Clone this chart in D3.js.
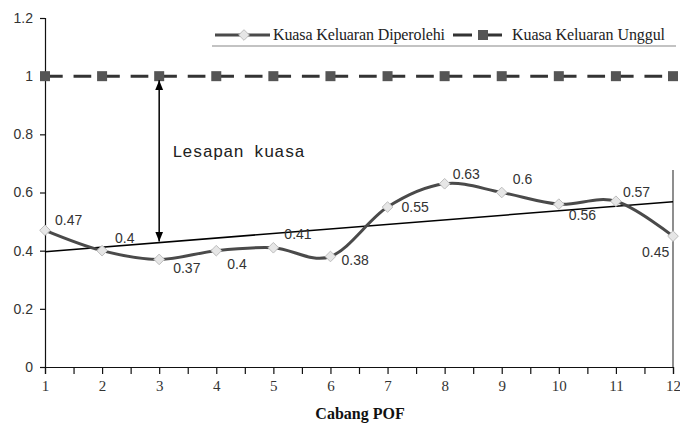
<!DOCTYPE html>
<html>
<head>
<meta charset="utf-8">
<script src="https://cdn.jsdelivr.net/npm/d3@7/dist/d3.min.js"></script>
<style>
  html, body { margin: 0; padding: 0; background: #fff; }
  svg { display: block; }
</style>
</head>
<body>
<svg id="chart" width="680" height="428"></svg>
<script>
// Power output per POF branch
const branches = [1, 2, 3, 4, 5, 6, 7, 8, 9, 10, 11, 12];
const obtained = [0.47, 0.4, 0.37, 0.4, 0.41, 0.38, 0.55, 0.63, 0.6, 0.56, 0.57, 0.45];
const optimum = [1, 1, 1, 1, 1, 1, 1, 1, 1, 1, 1, 1];
const yTicks = [0, 0.2, 0.4, 0.6, 0.8, 1, 1.2];
const seriesNames = ["Kuasa Keluaran Diperolehi", "Kuasa Keluaran Unggul"];
const xTitle = "Cabang POF";
const gapLabel = "Lesapan kuasa";
const gapAt = 3;

const svg = d3.select("#chart");
const W = 680, H = 428;
const m = { left: 45, right: 7, top: 18, bottom: 61 };

const x = d3.scaleLinear().domain([1, 12]).range([m.left, W - m.right]);
const y = d3.scaleLinear().domain([0, 1.2]).range([H - m.bottom, m.top]);

const sans = "'Liberation Sans', Arial, sans-serif";
const serif = "'Liberation Serif', 'Times New Roman', serif";
const mono = "'Liberation Mono', 'Courier New', monospace";

// Y axis
const yAxis = svg.append("g")
  .attr("transform", `translate(${m.left},0)`)
  .call(d3.axisLeft(y).tickValues(yTicks).tickSize(5).tickPadding(7)
    .tickFormat(d => d3.format("~g")(d)));
yAxis.selectAll("text").attr("font-family", sans).attr("font-size", 14).attr("fill", "#333");
yAxis.select(".domain").attr("stroke", "#111").attr("stroke-width", 1.2);
yAxis.selectAll(".tick line").attr("stroke", "#111").attr("stroke-width", 1.2);

// X axis: minor ticks at the half steps, labels on the integers
const halfSteps = d3.range(1, 12.01, 0.5);
const xAxis = svg.append("g")
  .attr("transform", `translate(0,${y(0)})`)
  .call(d3.axisBottom(x).tickValues(halfSteps).tickSize(7).tickPadding(6)
    .tickFormat(d => Number.isInteger(d) ? String(d) : ""));
xAxis.selectAll("text").attr("font-family", serif).attr("font-size", 15).attr("fill", "#333");
xAxis.select(".domain").attr("stroke", "#111").attr("stroke-width", 1.2);
xAxis.selectAll(".tick line").attr("stroke", "#111").attr("stroke-width", 1.2);

// Right edge of the plot frame
svg.append("line")
  .attr("x1", x(12)).attr("x2", x(12))
  .attr("y1", 170).attr("y2", y(0))
  .attr("stroke", "#444").attr("stroke-width", 1.2);

// X axis title
svg.append("text")
  .attr("x", (x(1) + x(12)) / 2 + 1).attr("y", 419)
  .attr("text-anchor", "middle")
  .attr("font-family", serif).attr("font-weight", "bold").attr("font-size", 16)
  .attr("fill", "#111")
  .text(xTitle);

// Optimum output: dashed line with square markers
const step = x(2) - x(1);
svg.append("path")
  .datum(optimum)
  .attr("d", d3.line().x((d, i) => x(branches[i])).y(d => y(d)))
  .attr("fill", "none").attr("stroke", "#333").attr("stroke-width", 3)
  .attr("stroke-dasharray", `${step * 0.31} ${step * 0.19}`);
svg.append("g").selectAll("rect")
  .data(optimum)
  .join("rect")
  .attr("x", (d, i) => x(branches[i]) - 5)
  .attr("y", d => y(d) - 5)
  .attr("width", 10).attr("height", 10)
  .attr("fill", "#555");

// Linear trend of the obtained output
const mx = d3.mean(branches), my = d3.mean(obtained);
const slope = d3.sum(branches, (b, i) => (b - mx) * (obtained[i] - my)) /
              d3.sum(branches, b => (b - mx) * (b - mx));
const intercept = my - slope * mx;
const trend = v => intercept + slope * v;
svg.append("line")
  .attr("x1", x(1)).attr("y1", y(trend(1)))
  .attr("x2", x(12)).attr("y2", y(trend(12)))
  .attr("stroke", "#000").attr("stroke-width", 1.5);

// Gap arrow between optimum and trend
const defs = svg.append("defs");
defs.append("marker")
  .attr("id", "arrowHead")
  .attr("viewBox", "0 0 10 10").attr("refX", 10).attr("refY", 5)
  .attr("markerWidth", 10).attr("markerHeight", 10)
  .attr("markerUnits", "userSpaceOnUse")
  .attr("orient", "auto-start-reverse")
  .append("path").attr("d", "M0,1 L10,5 L0,9 Z").attr("fill", "#000");
svg.append("line")
  .attr("x1", x(gapAt)).attr("x2", x(gapAt))
  .attr("y1", y(1) + 4).attr("y2", y(trend(gapAt)) - 1)
  .attr("stroke", "#000").attr("stroke-width", 1.5)
  .attr("marker-start", "url(#arrowHead)")
  .attr("marker-end", "url(#arrowHead)");
svg.append("text")
  .attr("x", x(gapAt) + 13).attr("y", 157)
  .attr("font-family", mono).attr("font-size", 17).attr("fill", "#222")
  .text(gapLabel);

// Obtained output: smoothed line with diamond markers
svg.append("path")
  .datum(obtained)
  .attr("d", d3.line().x((d, i) => x(branches[i])).y(d => y(d)).curve(d3.curveCardinal.tension(0)))
  .attr("fill", "none").attr("stroke", "#4a4a4a").attr("stroke-width", 3);
const diamond = d3.symbol().type(d3.symbolDiamond2).size(72);
svg.append("g").selectAll("path")
  .data(obtained)
  .join("path")
  .attr("d", diamond)
  .attr("transform", (d, i) => `translate(${x(branches[i])},${y(d)})`)
  .attr("fill", "#e6e6e6").attr("stroke", "#bdbdbd").attr("stroke-width", 1);

// Value labels, nudged clear of the line
const labelNudge = [[10, -5], [13, -8], [14, 14], [11, 18], [11, -9], [11, 9],
                    [14, 5], [8, -5], [11, -9], [10, 16], [7, -4], [-31, 21]];
svg.append("g").selectAll("text")
  .data(obtained)
  .join("text")
  .attr("x", (d, i) => x(branches[i]) + labelNudge[i][0])
  .attr("y", (d, i) => y(d) + labelNudge[i][1])
  .attr("font-family", sans).attr("font-size", 14).attr("fill", "#333")
  .text(d => d3.format("~g")(d));

// Legend
const lg = svg.append("g");
lg.append("line").attr("x1", 212).attr("x2", 676).attr("y1", 46).attr("y2", 46)
  .attr("stroke", "#888").attr("stroke-width", 1.2);
lg.append("line").attr("x1", 215).attr("x2", 270).attr("y1", 35).attr("y2", 35)
  .attr("stroke", "#4a4a4a").attr("stroke-width", 3);
lg.append("path").attr("d", diamond).attr("transform", "translate(244,35)")
  .attr("fill", "#e6e6e6").attr("stroke", "#bdbdbd");
lg.append("text").attr("x", 273).attr("y", 40)
  .attr("font-family", serif).attr("font-size", 16).attr("fill", "#222")
  .attr("textLength", 172).attr("lengthAdjust", "spacing")
  .text(seriesNames[0]);
lg.append("line").attr("x1", 453).attr("x2", 502).attr("y1", 35).attr("y2", 35)
  .attr("stroke", "#333").attr("stroke-width", 3)
  .attr("stroke-dasharray", "19 6 24");
lg.append("rect").attr("x", 478).attr("y", 30).attr("width", 10).attr("height", 10)
  .attr("fill", "#555");
lg.append("text").attr("x", 512).attr("y", 40)
  .attr("font-family", serif).attr("font-size", 16).attr("fill", "#222")
  .attr("textLength", 153).attr("lengthAdjust", "spacing")
  .text(seriesNames[1]);
</script>
</body>
</html>
